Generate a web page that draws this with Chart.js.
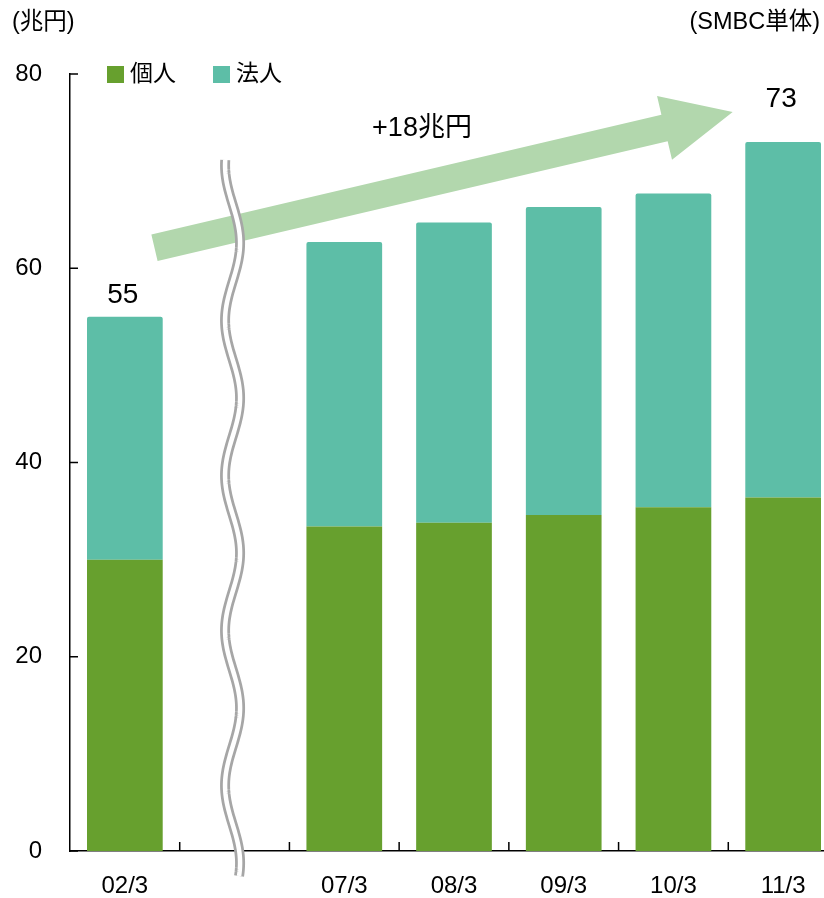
<!DOCTYPE html>
<html lang="ja">
<head>
<meta charset="utf-8">
<title>預金残高の推移</title>
<script src="https://cdn.jsdelivr.net/npm/chart.js@4.4.1/dist/chart.umd.min.js"></script>
<style>
  html, body { margin: 0; padding: 0; background: #fff; overflow: hidden; }
  #wrap { width: 840px; height: 898px; }
</style>
</head>
<body>
<div id="wrap"><canvas id="chart" width="840" height="898"></canvas></div>
<script>
// 預金残高 (兆円, SMBC単体)
const categories = ['02/3', '', '07/3', '08/3', '09/3', '10/3', '11/3'];
const personal   = [30,   null, 33.4, 33.8, 34.6, 35.4, 36.4];
const corporate  = [25,   null, 29.3, 30.9, 31.7, 32.3, 36.6];
const yTicks     = [0, 20, 40, 60, 80];
const labeledBars = [0, 6];   // bars that get a total on top
const breakIndex = 1;         // empty slot where the axis is broken

const FONT = "'Liberation Sans', Arial, 'Noto Sans CJK JP', sans-serif";
const GREEN = '#67a02e';
const TEAL = '#5dbea7';

const total = i => personal[i] + corporate[i];

const decorations = {
  id: 'decorations',
  afterDraw(chart) {
    const { ctx, chartArea: area, scales: { x, y } } = chart;
    ctx.save();

    // growth arrow
    const ax0 = x.getPixelForValue(0.27), ay0 = y.getPixelForValue(62.1);
    const ax1 = x.getPixelForValue(5.54), ay1 = y.getPixelForValue(76.1);
    const len = Math.hypot(ax1 - ax0, ay1 - ay0);
    const ux = (ax1 - ax0) / len, uy = (ay1 - ay0) / len;
    const nx = -uy, ny = ux;
    const shaft = 13.6, headLen = 70, headHalf = 32.7;
    const bx = ax1 - ux * headLen, by = ay1 - uy * headLen;
    ctx.fillStyle = '#b2d7ad';
    ctx.beginPath();
    ctx.moveTo(ax0 + nx * shaft, ay0 + ny * shaft);
    ctx.lineTo(bx + nx * shaft, by + ny * shaft);
    ctx.lineTo(bx + nx * headHalf, by + ny * headHalf);
    ctx.lineTo(ax1, ay1);
    ctx.lineTo(bx - nx * headHalf, by - ny * headHalf);
    ctx.lineTo(bx - nx * shaft, by - ny * shaft);
    ctx.lineTo(ax0 - nx * shaft, ay0 - ny * shaft);
    ctx.closePath();
    ctx.fill();

    // inward tick marks
    ctx.strokeStyle = '#000';
    ctx.lineWidth = 1.5;
    ctx.beginPath();
    yTicks.forEach(v => {
      const py = y.getPixelForValue(v);
      ctx.moveTo(area.left, py);
      ctx.lineTo(area.left + 8, py);
    });
    for (let i = 1; i <= categories.length; i++) {
      const px = x.getPixelForValue(i - 0.5);
      ctx.moveTo(px, area.bottom);
      ctx.lineTo(px, area.bottom - 9);
    }
    ctx.stroke();

    // wavy axis break
    const cx = x.getPixelForValue(breakIndex) - 2;
    const wave = new Path2D();
    for (let py = 160; py <= 877; py += 2) {
      const px = cx + 7.5 * Math.cos(2 * Math.PI * (py - 243) / 155);
      if (py === 160) wave.moveTo(px, py); else wave.lineTo(px, py);
    }
    ctx.lineCap = 'butt';
    ctx.strokeStyle = '#a6a6a6';
    ctx.lineWidth = 10;
    ctx.stroke(wave);
    ctx.strokeStyle = '#fff';
    ctx.lineWidth = 4.5;
    ctx.stroke(wave);

    // totals above selected bars
    ctx.fillStyle = '#000';
    ctx.textAlign = 'center';
    ctx.textBaseline = 'middle';
    ctx.font = `28px ${FONT}`;
    const lift = { 0: 22, 6: 43 };
    labeledBars.forEach(i => {
      const t = total(i);
      ctx.fillText(String(Math.round(t)), x.getPixelForValue(i) - 2, y.getPixelForValue(t) - lift[i]);
    });

    // growth label
    const growth = Math.round(total(6) - total(0));
    ctx.font = `27px ${FONT}`;
    ctx.fillText(`+${growth}兆円`, 422, 129);

    // legend
    ctx.textAlign = 'left';
    ctx.font = `23px ${FONT}`;
    const items = chart.data.datasets.map(d => ({ label: d.label, color: d.backgroundColor }));
    let lx = area.left + 37;
    items.forEach(it => {
      ctx.fillStyle = it.color;
      ctx.fillRect(lx, 66, 17, 17);
      ctx.fillStyle = '#000';
      ctx.fillText(it.label, lx + 23, 75);
      lx += 106;
    });

    // unit captions
    ctx.font = `23.5px ${FONT}`;
    ctx.fillText('(兆円)', 12, 23);
    ctx.textAlign = 'right';
    ctx.fillText('(SMBC単体)', 820, 23);

    ctx.restore();
  }
};

new Chart(document.getElementById('chart'), {
  type: 'bar',
  data: {
    labels: categories,
    datasets: [
      { label: '個人', data: personal, backgroundColor: GREEN, borderRadius: 0 },
      { label: '法人', data: corporate, backgroundColor: TEAL, borderRadius: 2 }
    ]
  },
  options: {
    responsive: false,
    devicePixelRatio: 1,
    animation: false,
    barPercentage: 0.69,
    categoryPercentage: 1.0,
    layout: { padding: { top: 74, right: 2, left: 0, bottom: 0 } },
    plugins: { legend: { display: false }, tooltip: { enabled: false } },
    scales: {
      x: {
        stacked: true,
        offset: true,
        z: 1,
        grid: { display: false, drawTicks: false },
        border: { color: '#000', width: 1.5 },
        ticks: { color: '#000', font: { family: FONT, size: 24 }, padding: 21, maxRotation: 0, autoSkip: false },
        afterFit(s) { s.height = 47; }
      },
      y: {
        stacked: true,
        min: 0,
        max: 80,
        grid: { display: false, drawTicks: false },
        border: { color: '#000', width: 1.5 },
        ticks: { stepSize: 20, color: '#000', font: { family: FONT, size: 24 }, padding: 28 },
        afterFit(s) { s.width = 70; }
      }
    }
  },
  plugins: [decorations]
});
</script>
</body>
</html>
